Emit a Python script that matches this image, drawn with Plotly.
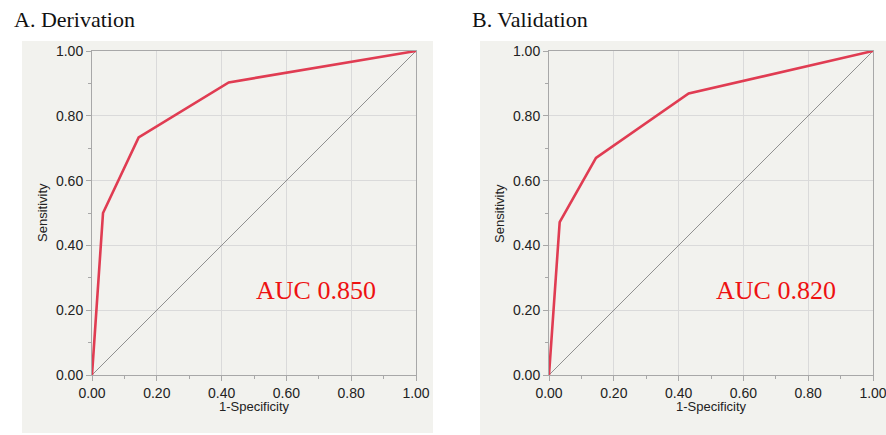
import plotly.graph_objects as go

# ROC curve points (1-Specificity, Sensitivity)
deriv_fpr = [0.0, 0.034, 0.144, 0.422, 1.0]
deriv_tpr = [0.0, 0.50, 0.733, 0.903, 1.0]
valid_fpr = [0.0, 0.033, 0.145, 0.431, 1.0]
valid_tpr = [0.0, 0.472, 0.670, 0.869, 1.0]
ref_line = [0.0, 1.0]

panel_titles = ["A. Derivation", "B. Validation"]
auc_labels = ["AUC 0.850", "AUC 0.820"]
tick_vals = [0.0, 0.2, 0.4, 0.6, 0.8, 1.0]
tick_text = ["0.00", "0.20", "0.40", "0.60", "0.80", "1.00"]

W, H = 886, 435
ROC_COLOR = "#e03c52"
SANS = "Liberation Sans, Arial, sans-serif"
SERIF = "Liberation Serif, Times New Roman, serif"

def px_x(p):
    return p / W

def px_y(p):
    return 1 - p / H

# pixel boxes of the two plot areas and their grey frames
plots = [(92, 416, 51, 375), (549, 873, 51, 375)]
frames = [(22, 433, 41, 433), (480, 886, 41, 435)]
title_x = [12, 470]

fig = go.Figure()

series = [(deriv_fpr, deriv_tpr), (valid_fpr, valid_tpr)]
for i, (fx, fy) in enumerate(series):
    xa = "x" if i == 0 else "x2"
    ya = "y" if i == 0 else "y2"
    fig.add_trace(go.Scatter(x=ref_line, y=ref_line, mode="lines",
                             line=dict(color="#909090", width=1),
                             xaxis=xa, yaxis=ya, showlegend=False, hoverinfo="skip"))
    fig.add_trace(go.Scatter(x=fx, y=fy, mode="lines",
                             line=dict(color=ROC_COLOR, width=2.6),
                             xaxis=xa, yaxis=ya, showlegend=False))

axis_common = dict(
    range=[0, 1], tickvals=tick_vals, ticktext=tick_text,
    showgrid=True, gridcolor="#dadada", gridwidth=1,
    showline=True, linecolor="#a8a8a8", linewidth=1, mirror=True,
    ticks="outside", ticklen=5, tickcolor="#a8a8a8",
    minor=dict(dtick=0.1, tick0=0, ticks="outside", ticklen=3, tickcolor="#a8a8a8", showgrid=False),
    tickfont=dict(family=SANS, size=14, color="#222222"),
    zeroline=False, fixedrange=True, automargin=False,
    ticklabeloverflow="allow",
)

layout = dict(
    width=W, height=H, margin=dict(l=0, r=0, t=0, b=0, pad=0),
    paper_bgcolor="white", plot_bgcolor="white",
    shapes=[], annotations=[],
)

for i, (x0, x1, y0, y1) in enumerate(plots):
    sfx = "" if i == 0 else "2"
    layout["xaxis" + sfx] = dict(axis_common, domain=[px_x(x0), px_x(x1)],
                                 anchor="y" + sfx)
    layout["yaxis" + sfx] = dict(axis_common, domain=[px_y(y1), px_y(y0)],
                                 anchor="x" + sfx)

for i, (fx0, fx1, fy0, fy1) in enumerate(frames):
    layout["shapes"].append(dict(type="rect", xref="paper", yref="paper",
                                 x0=px_x(fx0), x1=px_x(fx1), y0=px_y(fy1), y1=px_y(fy0),
                                 fillcolor="#f2f2ee", line=dict(width=0), layer="below"))

for i, (x0, x1, y0, y1) in enumerate(plots):
    sfx = "" if i == 0 else "2"
    # panel heading
    layout["annotations"].append(dict(text=panel_titles[i], xref="paper", yref="paper",
                                      x=px_x(title_x[i]), y=px_y(20), xanchor="left", yanchor="middle",
                                      showarrow=False, font=dict(family=SERIF, size=22, color="#111111")))
    # axis titles
    layout["annotations"].append(dict(text="1-Specificity", xref="paper", yref="paper",
                                      x=px_x((x0 + x1) / 2), y=px_y(406), xanchor="center", yanchor="middle",
                                      showarrow=False, font=dict(family=SANS, size=13, color="#222222")))
    layout["annotations"].append(dict(text="Sensitivity", xref="paper", yref="paper",
                                      x=px_x(x0 - 50), y=px_y((y0 + y1) / 2), xanchor="center", yanchor="middle",
                                      textangle=-90, showarrow=False,
                                      font=dict(family=SANS, size=13, color="#222222")))
    # AUC label
    layout["annotations"].append(dict(text=auc_labels[i], xref="x" + sfx, yref="y" + sfx,
                                      x=0.69 if i == 0 else 0.70, y=0.262, xanchor="center", yanchor="middle",
                                      showarrow=False, font=dict(family=SERIF, size=26, color="#ee1111")))

fig.update_layout(**layout)
fig.write_html("out.html")
